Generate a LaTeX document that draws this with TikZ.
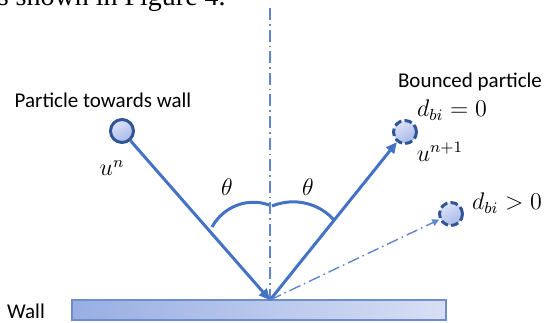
\documentclass[tikz,border=0pt]{standalone}
\usepackage{fontspec}
\setmainfont{Carlito}
\newfontfamily\bodyfont{Liberation Serif}
\usetikzlibrary{arrows.meta,shadings}

\definecolor{rayblue}{HTML}{4472C4}
\definecolor{rimblue}{HTML}{2F5597}
\definecolor{ballhi}{HTML}{DCE3F7}
\definecolor{balllo}{HTML}{A7B8E8}
\definecolor{wallhi}{HTML}{D8DFF4}
\definecolor{walllo}{HTML}{98AEE3}
\definecolor{wallrim}{HTML}{6E8DC9}

\begin{document}
\begin{tikzpicture}[x=0.5pt, y=-0.5pt,
  font=\fontsize{10.5}{12}\selectfont, >={Triangle[length=5.5pt,width=5pt]},
  ray/.style={draw=rayblue, line width=1.5pt},
  axis/.style={draw=rayblue!85!white, line width=0.7pt, dash pattern=on 6pt off 2pt on 0.8pt off 2pt},
  ball/.style={circle, draw=rimblue, line width=1.5pt, minimum size=11.5pt, inner sep=0pt, top color=ballhi, bottom color=balllo, shading angle=30},
  ghost/.style={ball, dash pattern=on 3.8pt off 1.6pt},
  wallbox/.style={draw=wallrim, line width=0.6pt, left color=walllo, right color=wallhi, inner sep=0pt},
  lbl/.style={inner sep=0pt},
  mlbl/.style={inner sep=0pt, font=\fontsize{12}{14}\selectfont},
]
\useasboundingbox (0,0) rectangle (546,322);
\node[anchor=base west, inner sep=0pt, font=\bodyfont\fontsize{14}{16}\selectfont] (cap) at (-15,5) {as shown in Figure 4.};
\node[wallbox, minimum width=187pt, minimum height=10pt] (wall) at (259,310) {};
\node[lbl] (walltxt) at (26,311) {Wall};
\coordinate (hit) at (270,300);
\coordinate (top) at (270,8);
\draw[axis] (top) -- (hit);
\node[ball] (pin) at (122,131) {};
\node[ghost] (pout) at (405,132) {};
\node[ghost] (pfar) at (451,214) {};
\draw[ray, ->] (pin) -- (hit);
\draw[ray, ->] (hit) -- (pout);
\draw[axis, -{Triangle[length=3.5pt,width=3.5pt]}] (hit) -- (pfar);
\draw[ray] (212,227) .. controls (223,207) and (247,197) .. (269,205);
\draw[ray] (272,206) .. controls (294,197) and (319,203) .. (334,220);
\node[mlbl] (thl) at (227,187) {$\theta$};
\node[mlbl] (thr) at (308,187) {$\theta$};
\node[lbl] (intxt) at (103,100) {Particle towards wall};
\node[mlbl] (uin) at (112,168) {$u^{n}$};
\node[lbl] (outtxt) at (470,82) {Bounced particle};
\node[mlbl] (d0) at (452,110) {$d_{bi}=0$};
\node[mlbl] (uout) at (440,152) {$u^{n+1}$};
\node[mlbl] (dpos) at (507,203) {$d_{bi}>0$};
\end{tikzpicture}
\end{document}
